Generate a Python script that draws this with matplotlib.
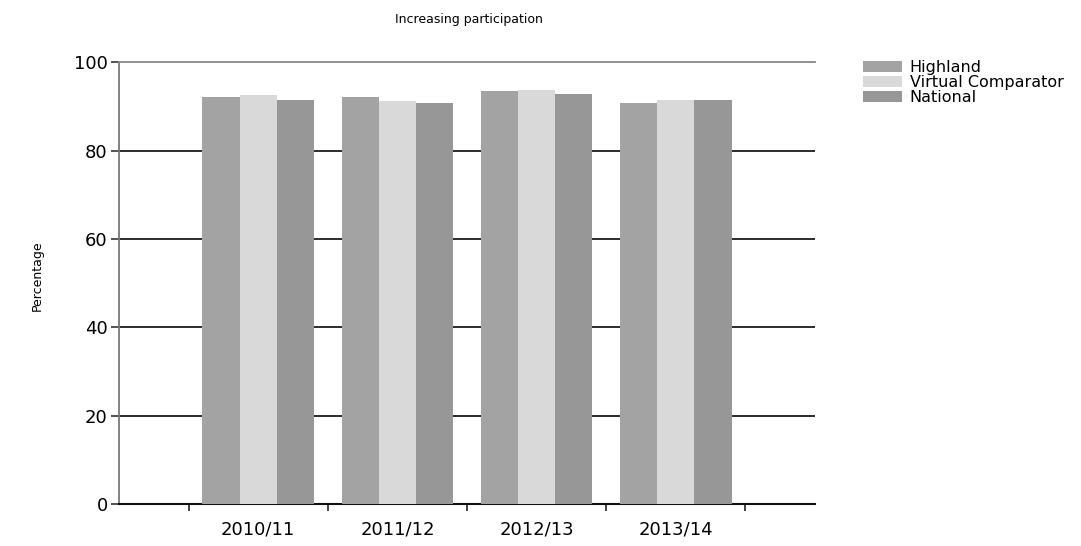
import matplotlib
matplotlib.use("Agg")
import matplotlib.pyplot as plt
import numpy as np

categories = ["2010/11", "2011/12", "2012/13", "2013/14"]
highland = [92.1, 92.1, 93.4, 90.8]
virtual_comparator = [92.5, 91.2, 93.8, 91.5]
national = [91.5, 90.8, 92.9, 91.5]
series_names = ["Highland", "Virtual Comparator", "National"]
yticks = [0, 20, 40, 60, 80, 100]

colors = ["#a3a3a3", "#d9d9d9", "#979797"]

fig = plt.figure(figsize=(10.81, 5.46), dpi=100)
ax = fig.add_axes([0.110, 0.077, 0.644, 0.809])

x = np.arange(1, len(categories) + 1)
w = 0.267
for i, (vals, name) in enumerate(zip([highland, virtual_comparator, national], series_names)):
    ax.bar(x + (i - 1) * w, vals, width=w, color=colors[i], label=name, zorder=3, linewidth=0)

for g in yticks[1:-1]:
    ax.axhline(g, color="#1a1a1a", linewidth=1.3, zorder=1)

ax.set_xlim(0, 5)
ax.set_ylim(0, 100)
ax.set_yticks(yticks)
ax.set_xticks(x)
ax.set_xticklabels(categories, fontsize=13)
ax.set_xticks(np.arange(0.5, 5.0, 1.0), minor=True)
ax.tick_params(axis="x", which="major", length=0, pad=12)
ax.tick_params(axis="x", which="minor", length=5, width=1.2, color="#222222")
ax.tick_params(axis="y", length=6, width=1.2, labelsize=13, pad=2, color="#333333")

ax.spines["right"].set_visible(False)
ax.spines["top"].set_color("#888888")
ax.spines["top"].set_linewidth(1.3)
ax.spines["left"].set_color("#777777")
ax.spines["left"].set_linewidth(1.3)
ax.spines["bottom"].set_color("#111111")
ax.spines["bottom"].set_linewidth(1.5)

fig.text(0.034, 0.495, "Percentage", rotation=90, ha="center", va="center", fontsize=9)
fig.text(0.434, 0.965, "Increasing participation", ha="center", va="center", fontsize=9)

ax.legend(loc="upper left", bbox_to_anchor=(1.06, 1.02), frameon=False, fontsize=11.5,
          handlelength=2.4, handleheight=0.7, labelspacing=0.0, handletextpad=0.5,
          borderaxespad=0)

fig.savefig("out.png", dpi=100)
